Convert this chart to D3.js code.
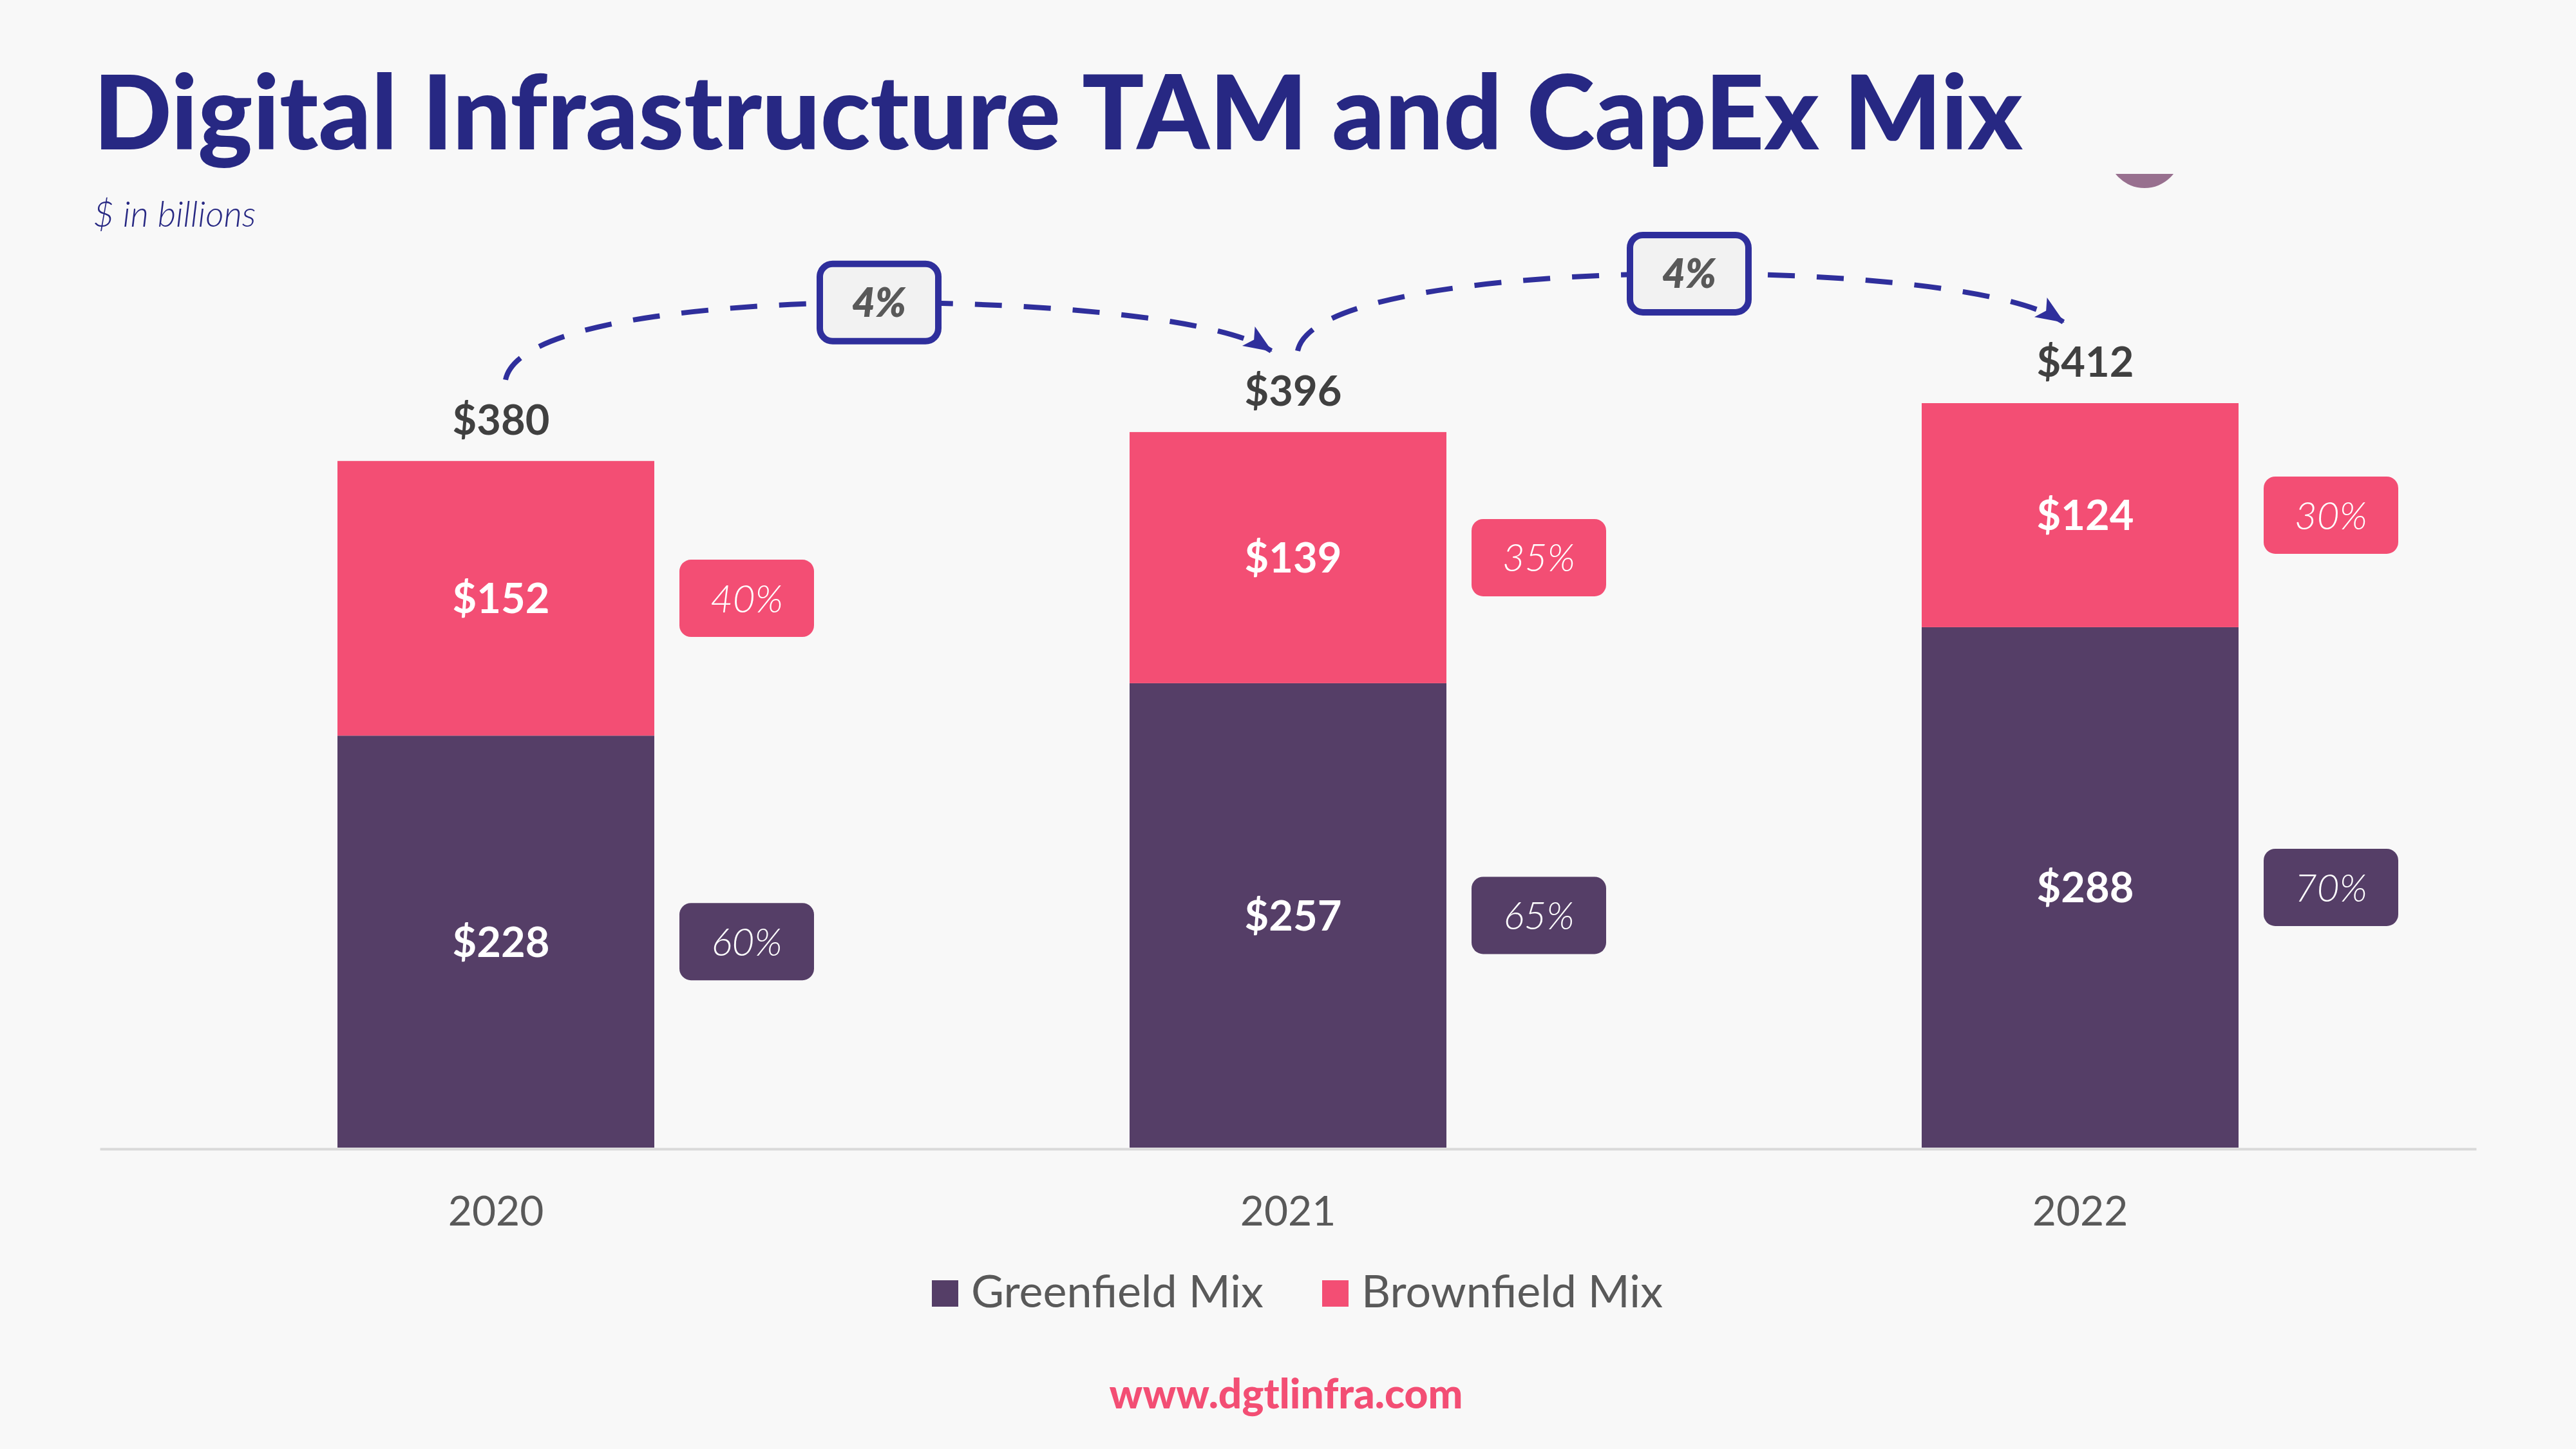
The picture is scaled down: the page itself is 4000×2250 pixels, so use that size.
<!DOCTYPE html>
<html>
<head>
<meta charset="utf-8">
<script src="https://cdn.jsdelivr.net/npm/d3@7"></script>
<style>
  html, body { margin: 0; padding: 0; background: #F8F8F8; }
  svg { display: block; }
</style>
</head>
<body>
<div id="chart"></div>
<script>
// ---- data ----
const years = ["2020", "2021", "2022"];
const greenfield = [228, 257, 288];
const brownfield = [152, 139, 124];
const totals = [380, 396, 412];
const greenPct = ["60%", "65%", "70%"];
const brownPct = ["40%", "35%", "30%"];
const growth = ["4%", "4%"];
const seriesNames = ["Greenfield Mix", "Brownfield Mix"];

// ---- style ----
const W = 4000, H = 2250;
const colGreen = "#553E67";
const colBrown = "#F34E74";
const navy = "#272883";
const arcCol = "#2F2F9C";
const bg = "#F8F8F8";
const boxShift = [-20, 8];   // horizontal nudge of each growth box from the midpoint

const svg = d3.select("#chart").append("svg")
  .attr("width", W).attr("height", H)
  .style("font-family", "Lato, 'Open Sans', sans-serif");

svg.append("rect").attr("width", W).attr("height", H).attr("fill", bg);

// ---- scales ----
const x = d3.scaleBand().domain(years).range([155, 3845]).paddingInner(0.6).paddingOuter(0.3);
const y = d3.scaleLinear().domain([0, 412]).range([1782, 626]);
const bw = x.bandwidth();

const rows = years.map((yr, i) => ({ year: yr, green: greenfield[i], brown: brownfield[i] }));
const stack = d3.stack().keys(["green", "brown"]);
const stacked = stack(rows);
const colors = { green: colGreen, brown: colBrown };
const pcts = { green: greenPct, brown: brownPct };

// ---- title ----
const title = svg.append("text")
  .attr("x", 145).attr("y", 232)
  .attr("fill", navy)
  .attr("font-weight", 900)
  .attr("font-size", 152)
  .text("Digital Infrastructure TAM and CapEx Mix");
const tl = title.node().getComputedTextLength();
title.attr("font-size", 152 * 2996 / tl);

svg.append("text")
  .attr("x", 145).attr("y", 352)
  .attr("fill", navy)
  .attr("font-style", "italic")
  .attr("font-weight", 300)
  .attr("font-size", 55)
  .text("$ in billions");

// partial logo mark at top right
const clip = svg.append("clipPath").attr("id", "logoClip");
clip.append("rect").attr("x", 3200).attr("y", 270).attr("width", 300).attr("height", 60);
svg.append("circle").attr("cx", 3330).attr("cy", 235).attr("r", 57)
  .attr("fill", "#98708F").attr("clip-path", "url(#logoClip)");

// ---- axis ----
const axis = svg.append("g")
  .attr("transform", "translate(0,1784)")
  .call(d3.axisBottom(x).tickSize(0).tickPadding(74));
axis.select(".domain").attr("stroke", "#D9D9D9").attr("stroke-width", 4);
axis.selectAll(".tick text")
  .attr("font-size", 64)
  .attr("font-family", "Lato, sans-serif")
  .attr("fill", "#595959");

// ---- bars ----
const layers = svg.append("g").selectAll("g").data(stacked).join("g")
  .attr("fill", d => colors[d.key]);
layers.selectAll("rect").data(d => d).join("rect")
  .attr("x", d => x(d.data.year))
  .attr("width", bw)
  .attr("y", d => y(d[1]))
  .attr("height", d => y(d[0]) - y(d[1]));

// segment value labels
stacked.forEach(layer => {
  svg.append("g").selectAll("text").data(layer).join("text")
    .attr("x", d => x(d.data.year) + bw / 2 + 8)
    .attr("y", d => (y(d[0]) + y(d[1])) / 2)
    .attr("dy", "0.36em")
    .attr("text-anchor", "middle")
    .attr("fill", "#FFFFFF")
    .attr("font-weight", 700)
    .attr("font-size", 65)
    .text(d => "$" + (d[1] - d[0]));

  // percentage badges
  const bx = d => x(d.data.year) + bw + 39;
  const bwid = 209, bht = 120;
  const badges = svg.append("g").selectAll("g").data(layer).join("g");
  badges.append("rect")
    .attr("x", d => bx(d))
    .attr("y", d => (y(d[0]) + y(d[1])) / 2 - bht / 2)
    .attr("width", bwid).attr("height", bht)
    .attr("rx", 18).attr("ry", 18)
    .attr("fill", colors[layer.key]);
  badges.append("text")
    .attr("x", d => bx(d) + bwid / 2)
    .attr("y", d => (y(d[0]) + y(d[1])) / 2)
    .attr("dy", "0.36em")
    .attr("text-anchor", "middle")
    .attr("fill", "#FFFFFF")
    .attr("font-style", "italic")
    .attr("font-weight", 300)
    .attr("font-size", 60)
    .text((d, i) => pcts[layer.key][i]);
});

// total labels
svg.append("g").selectAll("text").data(years).join("text")
  .attr("x", d => x(d) + bw / 2 + 8)
  .attr("y", (d, i) => y(totals[i]) - 64)
  .attr("dy", "0.36em")
  .attr("text-anchor", "middle")
  .attr("fill", "#404040")
  .attr("font-weight", 700)
  .attr("font-size", 65)
  .text((d, i) => "$" + totals[i]);

// ---- growth arcs ----
const defs = svg.append("defs");
defs.append("marker")
  .attr("id", "arrow")
  .attr("markerUnits", "userSpaceOnUse")
  .attr("viewBox", "0 0 44 40")
  .attr("markerWidth", 44).attr("markerHeight", 40)
  .attr("refX", 42).attr("refY", 20)
  .attr("orient", "auto")
  .append("path")
  .attr("d", "M0,2 L44,20 L0,38 L10,20 Z")
  .attr("fill", arcCol);

growth.forEach((g, i) => {
  const c0 = x(years[i]) + bw / 2, c1 = x(years[i + 1]) + bw / 2;
  const x0 = c0 + 15, y0 = y(totals[i]) - 126;
  const x3 = c1 - 26, y3 = y(totals[i + 1]) - 126;
  const xm = (c0 + c1) / 2 + boxShift[i], ym = y0 - 120;
  const p = d3.path();
  p.moveTo(x0, y0);
  p.bezierCurveTo(x0 + 18, y0 - 90, xm - 250, ym, xm, ym);
  p.bezierCurveTo(xm + 250, ym, x3 - 80, y3 - 52, x3, y3);
  svg.append("path")
    .attr("d", p.toString())
    .attr("fill", "none")
    .attr("stroke", arcCol)
    .attr("stroke-width", 8)
    .attr("stroke-dasharray", "42 34")
    .attr("marker-end", "url(#arrow)");

  const boxW = 184, boxH = 120;
  svg.append("rect")
    .attr("x", xm - boxW / 2).attr("y", ym - boxH / 2)
    .attr("width", boxW).attr("height", boxH)
    .attr("rx", 20).attr("ry", 20)
    .attr("fill", "#F2F2F2")
    .attr("stroke", arcCol)
    .attr("stroke-width", 10);
  svg.append("text")
    .attr("x", xm).attr("y", ym)
    .attr("dy", "0.36em")
    .attr("text-anchor", "middle")
    .attr("fill", "#595959")
    .attr("font-weight", 800)
    .attr("font-style", "italic")
    .attr("font-size", 62)
    .text(g);
});

// ---- legend ----
const legendItems = [
  { name: seriesNames[0], color: colGreen, x: 1447 },
  { name: seriesNames[1], color: colBrown, x: 2053 }
];
const lg = svg.append("g").selectAll("g").data(legendItems).join("g")
  .attr("transform", d => `translate(${d.x},1988)`);
lg.append("rect").attr("width", 41).attr("height", 41).attr("fill", d => d.color);
lg.append("text")
  .attr("x", 61).attr("y", 42)
  .attr("fill", "#595959")
  .attr("font-size", 70)
  .text(d => d.name);

// ---- footer ----
svg.append("text")
  .attr("x", 1997).attr("y", 2187)
  .attr("text-anchor", "middle")
  .attr("fill", colBrown)
  .attr("font-weight", 900)
  .attr("font-size", 64)
  .text("www.dgtlinfra.com");
</script>
</body>
</html>
